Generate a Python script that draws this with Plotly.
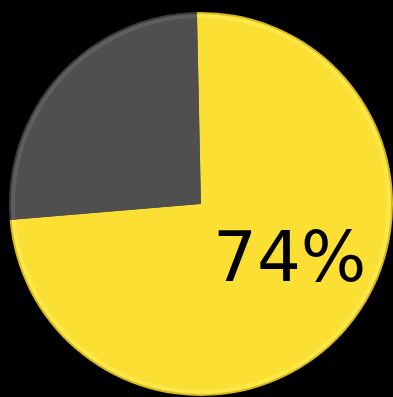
import plotly.graph_objects as go

# Share of respondents
labels = ["Yes", "No"]
values = [74, 26]
colors = ["#FBDF33", "#4F4F4F"]
rim_colors = ["#D9B91E", "#3C3C3C"]
glow_colors = ["#FFE84A", "#5E5E5E"]

W, H = 393, 397
cx, cy, r = 201, 204, 192  # pie centre (px from left / top) and radius


def domain(radius):
    return dict(
        x=[max(0, (cx - radius) / W), min(1, (cx + radius) / W)],
        y=[max(0, (H - cy - radius) / H), min(1, (H - cy + radius) / H)],
    )


fig = go.Figure()
# Layered discs give the rim a soft bevel
for rad, cols in [(r, rim_colors), (r - 2, glow_colors), (r - 6, colors)]:
    fig.add_trace(go.Pie(
        labels=labels,
        values=values,
        sort=False,
        direction="clockwise",
        rotation=-1.2,
        marker=dict(colors=cols, line=dict(width=0)),
        textinfo="none",
        hoverinfo="skip",
        domain=domain(rad),
        showlegend=False,
    ))

share = round(values[0] / sum(values) * 100)
fig.add_annotation(
    x=289 / W, y=(H - 257) / H, xref="paper", yref="paper",
    text=f"{share}%", showarrow=False,
    font=dict(family="DejaVu Sans", size=69, color="#000000"),
    xanchor="center", yanchor="middle",
)

fig.update_layout(
    width=W, height=H,
    margin=dict(l=0, r=0, t=0, b=0),
    paper_bgcolor="#000000",
    plot_bgcolor="#000000",
    showlegend=False,
)

fig.write_html("out.html")
